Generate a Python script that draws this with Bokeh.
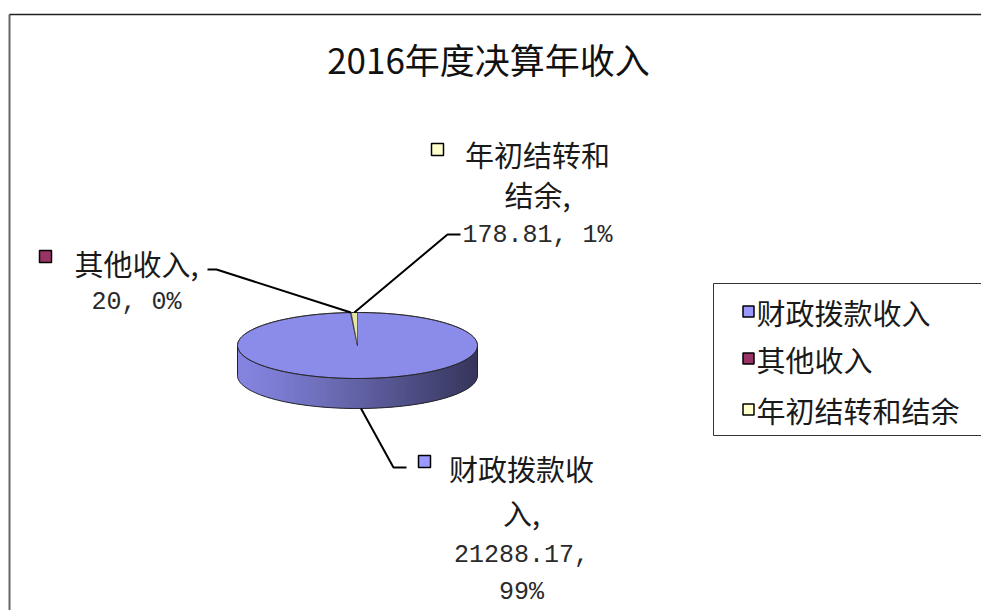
import numpy as np
from bokeh.plotting import figure
from bokeh.models import Range1d
from bokeh.core.properties import value
from bokeh.embed import file_html
from bokeh.resources import INLINE

# ---- data ----
title = "2016年度决算年收入"
categories = ["财政拨款收入", "其他收入", "年初结转和结余"]
values = [21288.17, 20.0, 178.81]
legend_colors = ["#9999ff", "#993366", "#ffffcc"]
top_colors = ["#8b8be9", "#8a3a62", "#e6e6a6"]

total = sum(values)
fracs = [v / total for v in values]
pcts = [f"{round(f * 100)}%" for f in fracs]
vals = [f"{v:.2f}".rstrip("0").rstrip(".") for v in values]

# ---- figure (data units == screen pixels) ----
W, H = 981, 610
p = figure(width=W, height=H, output_backend="svg", toolbar_location=None,
           x_range=Range1d(0, W), y_range=Range1d(H, 0),
           min_border=0, x_axis_location=None, y_axis_location=None)
p.grid.visible = False
p.outline_line_color = None
p.background_fill_color = "white"
p.border_fill_color = "white"

CJK = value("Noto Sans CJK SC")
MONO = value("Liberation Mono")

# chart border (top and left visible)
p.segment(x0=[9, 9], y0=[14, 14], x1=[9, 990], y1=[620, 14],
          line_color=["#666666", "#222222"], line_width=[2, 1.5])

# title
p.text(x=[488], y=[58], text=[title], text_font=CJK, text_font_size="35px",
       text_align="center", text_baseline="middle", text_color="#111111")

# ---- 3D pie ----
cx, cy, a, b, depth = 357.0, 345.0, 120.0, 33.0, 30.0


def ell(theta_deg, dy=0.0):
    t = np.radians(theta_deg)
    return cx + a * np.sin(t), cy - b * np.cos(t) + dy


# slice angles (clockwise from 12 o'clock)
starts, ends = [], []
acc = 0.0
for f in fracs:
    starts.append(acc)
    acc += f * 360.0
    ends.append(acc)

# side (front half): base polygon then shaded strips
bt = np.linspace(90, 270, 200)
tx_, ty_ = ell(bt)
bx, by = ell(bt, depth)
p.patch(x=list(tx_) + list(bx[::-1]), y=list(ty_) + list(by[::-1]),
        fill_color="#6c6cb8", line_color=None)

N = 120
th = np.linspace(90, 270, N + 1)
left_c = np.array([134, 134, 226])
right_c = np.array([54, 54, 92])
sxs, sys_, scol = [], [], []
for i in range(N):
    x0, y0 = ell(th[i])
    x1, y1 = ell(th[min(i + 2, N)])
    sxs.append([x0, x1, x1, x0])
    sys_.append([y0, y1, y1 + depth, y0 + depth])
    xm, _ = ell((th[i] + th[i + 1]) / 2)
    tx = (xm - (cx - a)) / (2 * a)
    tx = min(max(tx, 0), 1)
    c = left_c + (right_c - left_c) * (tx ** 1.2)
    scol.append("#%02x%02x%02x" % tuple(int(v) for v in c))
p.patches(xs=sxs[::-1], ys=sys_[::-1], fill_color=scol[::-1], line_color=None)

# side outline
p.line(x=bx, y=by, line_color="#222222", line_width=1)
for tt in (90, 270):
    x0, y0 = ell(tt)
    p.line(x=[x0, x0], y=[y0, y0 + depth], line_color="#222222", line_width=1)

# top wedges
wx, wy = [], []
for s, e in zip(starts, ends):
    n = max(3, int((e - s) * 2))
    tt = np.linspace(s, e, n)
    ex, ey = ell(tt)
    wx.append([cx] + list(ex))
    wy.append([cy] + list(ey))
p.patches(xs=wx, ys=wy, fill_color=top_colors, line_color="#333333",
          line_width=0.6)

# top outline
ot = np.linspace(0, 360, 400)
ox, oy = ell(ot)
p.line(x=ox, y=oy, line_color="#222222", line_width=1)

# ---- leader lines ----
mids = [(s + e) / 2 for s, e in zip(starts, ends)]
ax0, ay0 = ell(mids[0], depth)
ax1, ay1 = ell(mids[1])
ax2, ay2 = ell(mids[2])
p.line(x=[ax0, 393, 406], y=[ay0, 467, 467], line_color="black", line_width=2)
p.line(x=[ax1, 216, 207], y=[ay1, 269, 269], line_color="black", line_width=2)
p.line(x=[ax2, 447, 460], y=[ay2, 234, 234], line_color="black", line_width=2)

# ---- data labels ----
label_specs = [
    # (marker x, marker y, center x, [(text, font, y), ...])
    (424, 461, 521, [(categories[0][:5], "cjk", 467),
                     (categories[0][5:] + ",", "cjk", 511),
                     (vals[0] + ",", "mono", 553),
                     (pcts[0], "mono", 592)]),
    (45, 256, 136, [(categories[1] + ",", "cjk", 262),
                    (f"{vals[1]}, {pcts[1]}", "mono", 302)]),
    (437, 149, 537, [(categories[2][:5], "cjk", 153),
                     (categories[2][5:] + ",", "cjk", 193),
                     (f"{vals[2]}, {pcts[2]}", "mono", 235)]),
]
mk_x, mk_y = [], []
for i, (mx, my, ccx, lines) in enumerate(label_specs):
    mk_x.append(mx)
    mk_y.append(my)
    for txt, fnt, ly in lines:
        if fnt == "cjk":
            p.text(x=[ccx], y=[ly], text=[txt], text_font=CJK,
                   text_font_size="29px", text_align="center",
                   text_baseline="middle", text_color="#1a1a1a")
        else:
            p.text(x=[ccx], y=[ly], text=[txt], text_font=MONO,
                   text_font_size="25px", text_align="center",
                   text_baseline="middle", text_color="#2a2a2a")
p.scatter(x=mk_x, y=mk_y, marker="square", size=12, fill_color=legend_colors,
          line_color="black", line_width=1.5)

# ---- legend ----
p.quad(left=[713], right=[1000], top=[283], bottom=[435], fill_color="white",
       line_color="#333333", line_width=1)
leg_y = [311, 358, 409]
p.scatter(x=[748] * 3, y=leg_y, marker="square", size=11,
          fill_color=legend_colors, line_color="black", line_width=1.5)
p.text(x=[756] * 3, y=leg_y, text=categories, text_font=CJK,
       text_font_size="29px", text_align="left", text_baseline="middle",
       text_color="#1a1a1a")

open("out.html", "w").write(file_html(p, INLINE))
